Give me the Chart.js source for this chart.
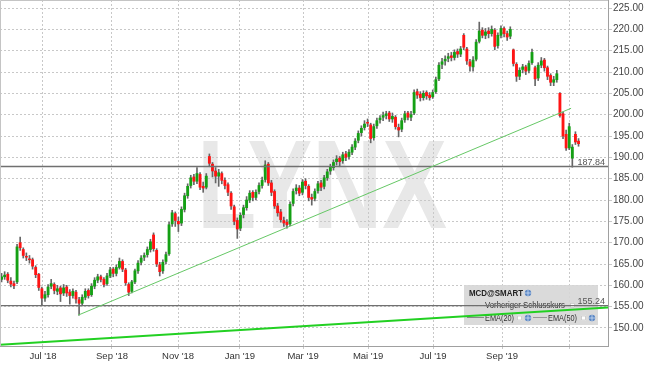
<!DOCTYPE html>
<html>
<head>
<meta charset="utf-8">
<script src="https://cdn.jsdelivr.net/npm/chart.js@4.4.0/dist/chart.umd.min.js"></script>
<style>
html, body { margin: 0; padding: 0; background: #fff; }
canvas { display: block; }
</style>
</head>
<body>
<canvas id="myChart" width="645" height="366"></canvas>
<script>
// Kerzen (je Kerze ca. zwei Handelstage), Mai 2018 - Nov 2019
const candleOpen = [
  161.4, 162.0, 162.6, 161.0, 160.4, 160.8, 170.0, 168.4, 166.8, 166.2,
  166.0, 164.2, 162.6, 159.2, 157.0, 157.8, 159.8, 160.2, 158.6, 159.4,
  158.2, 159.6, 158.4, 157.6, 158.4, 156.6, 155.8, 157.2, 158.8, 157.8,
  159.8, 161.2, 162.0, 161.4, 160.4, 162.2, 163.8, 162.8, 164.2, 165.6,
  163.6, 160.2, 158.6, 160.8, 163.4, 165.4, 166.6, 167.2, 168.4, 171.8,
  168.2, 164.8, 163.4, 165.6, 167.4, 174.4, 176.8, 175.0, 174.6, 177.8,
  181.0, 183.4, 185.4, 184.4, 186.0, 183.2, 183.0, 190.2, 188.4, 186.8,
  185.6, 186.2, 184.6, 183.6, 181.6, 178.4, 175.2, 173.4, 176.6, 178.2,
  180.0, 181.8, 180.6, 182.0, 183.4, 184.8, 188.4, 184.0, 182.0, 178.6,
  177.2, 175.2, 174.8, 174.4, 179.2, 182.2, 182.8, 181.8, 184.4, 183.2,
  180.6, 180.4, 182.2, 184.0, 183.2, 185.2, 186.8, 187.6, 189.0, 189.8,
  189.2, 190.8, 190.2, 191.2, 192.4, 194.0, 195.8, 197.0, 198.2, 197.6,
  194.6, 197.4, 198.8, 199.4, 199.8, 200.4, 199.0, 199.4, 197.0, 196.6,
  198.8, 200.4, 199.4, 200.4, 205.4, 204.8, 204.0, 205.2, 204.6, 204.2,
  205.4, 208.4, 211.8, 212.6, 213.2, 213.8, 213.4, 214.8, 214.2, 218.6,
  215.4, 212.4, 211.2, 213.0, 217.2, 219.8, 218.6, 219.6, 219.0, 219.8,
  216.2, 218.6, 220.2, 219.0, 218.4, 215.2, 211.8, 209.0, 210.6, 211.2,
  210.4, 212.2, 211.0, 208.6, 211.6, 212.8, 211.0, 209.2, 207.6, 208.2,
  205.0, 200.2, 195.4, 192.2, 189.8, 195.4, 193.8
];
const candleHigh = [
  162.8, 163.2, 163.0, 161.8, 161.0, 169.6, 171.3, 168.8, 167.6, 167.0,
  166.4, 164.6, 162.8, 159.6, 158.6, 160.2, 161.4, 160.6, 160.0, 159.8,
  160.2, 160.0, 159.0, 159.2, 158.8, 157.2, 157.8, 159.2, 159.2, 160.4,
  161.8, 162.6, 162.4, 161.8, 162.8, 164.2, 164.2, 164.8, 166.4, 166.0,
  164.0, 160.6, 161.2, 163.8, 165.8, 167.0, 167.6, 169.0, 170.8, 172.3,
  168.6, 165.4, 166.0, 167.8, 174.8, 177.6, 177.2, 176.0, 178.4, 181.6,
  183.8, 185.8, 186.0, 187.6, 186.4, 184.2, 186.2, 190.8, 188.8, 187.6,
  187.2, 186.6, 185.2, 184.0, 182.0, 178.8, 175.8, 177.0, 178.8, 180.8,
  182.2, 182.2, 182.4, 184.0, 185.4, 189.2, 188.8, 184.6, 182.4, 179.2,
  177.8, 176.0, 175.4, 179.6, 182.6, 183.6, 183.4, 184.8, 185.0, 183.6,
  181.4, 182.6, 184.4, 184.6, 185.8, 187.2, 188.4, 189.4, 190.4, 190.2,
  191.2, 191.4, 191.8, 193.0, 194.4, 196.2, 197.4, 198.6, 199.0, 198.0,
  197.8, 199.2, 199.8, 200.6, 200.8, 200.8, 200.4, 199.8, 197.8, 199.2,
  200.8, 200.8, 200.8, 205.8, 206.0, 205.4, 205.6, 205.6, 205.2, 205.8,
  208.8, 212.2, 213.2, 213.8, 214.4, 214.6, 215.2, 215.4, 216.0, 219.0,
  215.8, 213.0, 213.6, 217.6, 221.7, 220.4, 220.2, 220.4, 220.8, 220.2,
  219.2, 220.8, 220.6, 219.6, 220.6, 215.4, 212.2, 211.0, 211.8, 211.6,
  212.6, 215.4, 211.4, 212.2, 213.4, 213.2, 211.4, 209.6, 209.0, 210.4,
  205.2, 200.6, 196.4, 198.0, 193.0, 196.0, 194.4
];
const candleLow = [
  160.8, 161.4, 160.6, 159.6, 159.2, 160.4, 168.2, 166.4, 165.8, 165.2,
  163.8, 161.8, 158.8, 155.3, 156.2, 157.2, 159.2, 158.0, 157.8, 156.2,
  157.6, 157.4, 155.6, 157.0, 155.8, 153.0, 155.2, 156.6, 157.0, 157.4,
  159.2, 160.6, 160.8, 159.6, 160.0, 161.8, 162.0, 162.2, 163.8, 163.2,
  160.0, 157.6, 158.2, 160.4, 162.8, 164.8, 165.8, 166.6, 167.8, 168.0,
  164.4, 162.2, 162.8, 165.0, 167.0, 173.8, 173.8, 172.6, 174.0, 177.2,
  180.4, 182.8, 183.6, 183.8, 182.4, 181.8, 182.6, 187.8, 185.4, 184.0,
  183.2, 183.8, 182.6, 181.0, 177.8, 174.2, 171.0, 172.8, 175.8, 177.6,
  179.4, 179.8, 180.0, 181.4, 182.8, 184.2, 183.4, 181.0, 178.0, 176.2,
  174.8, 173.8, 173.4, 174.0, 178.6, 181.4, 181.0, 181.2, 182.6, 179.8,
  178.8, 179.8, 181.6, 182.2, 182.6, 184.6, 186.0, 187.0, 188.2, 187.8,
  188.6, 189.2, 189.6, 190.6, 191.8, 193.4, 195.0, 196.4, 197.2, 193.4,
  194.0, 196.8, 198.0, 198.6, 199.0, 198.4, 198.2, 196.6, 194.8, 196.0,
  198.2, 198.8, 198.6, 200.0, 203.8, 203.2, 203.4, 203.6, 203.4, 203.8,
  205.0, 208.0, 210.8, 211.6, 212.4, 212.6, 212.8, 213.4, 213.6, 215.2,
  211.8, 210.2, 210.2, 212.6, 216.8, 218.0, 217.8, 218.0, 218.4, 215.2,
  215.6, 218.0, 218.2, 217.4, 217.8, 211.4, 207.8, 208.2, 209.8, 209.4,
  209.8, 211.8, 206.8, 208.0, 211.0, 210.2, 208.2, 206.8, 206.8, 207.6,
  199.4, 194.4, 191.6, 191.8, 187.7, 193.0, 192.6
];
const candleClose = [
  162.0, 162.4, 161.2, 160.3, 159.9, 169.0, 168.8, 167.0, 166.6, 166.0,
  164.5, 162.5, 159.5, 157.0, 157.8, 159.6, 160.4, 158.8, 159.2, 158.0,
  159.4, 158.2, 157.6, 158.6, 156.8, 155.8, 157.2, 158.6, 157.6, 159.8,
  161.2, 162.0, 161.4, 160.2, 162.2, 163.6, 162.8, 164.2, 165.6, 163.8,
  160.6, 158.4, 160.8, 163.4, 165.2, 166.4, 167.0, 168.4, 170.2, 168.6,
  165.0, 163.2, 165.4, 167.2, 174.2, 177.0, 175.2, 174.4, 177.8, 181.0,
  183.2, 185.2, 184.4, 186.2, 183.0, 182.8, 185.6, 188.6, 186.8, 185.6,
  186.4, 184.6, 183.4, 181.8, 178.6, 175.0, 173.2, 176.4, 178.2, 180.0,
  181.6, 180.6, 181.8, 183.4, 184.6, 188.2, 184.0, 181.8, 178.6, 177.0,
  175.4, 174.6, 174.2, 179.0, 182.0, 182.8, 181.6, 184.2, 183.4, 180.6,
  180.2, 182.0, 183.8, 183.0, 185.2, 186.6, 187.8, 188.8, 189.6, 189.0,
  190.6, 190.0, 191.2, 192.4, 193.8, 195.6, 196.8, 197.8, 198.0, 194.4,
  197.2, 198.6, 199.2, 199.8, 200.2, 199.0, 199.6, 197.2, 196.4, 198.6,
  200.2, 199.4, 200.0, 205.2, 204.6, 204.0, 205.0, 204.4, 204.0, 205.2,
  208.2, 211.6, 212.4, 213.0, 213.6, 213.4, 214.6, 214.2, 215.4, 215.8,
  212.6, 211.4, 212.8, 217.0, 219.6, 218.6, 219.4, 219.0, 220.0, 216.0,
  218.6, 220.2, 219.0, 218.2, 220.0, 212.0, 209.0, 210.4, 211.2, 210.2,
  212.0, 214.6, 208.4, 211.6, 212.6, 211.0, 209.0, 207.6, 208.2, 209.6,
  199.8, 195.0, 192.2, 197.2, 192.4, 193.6, 193.2
];

// Achsen (x = Handelstag-Index)
const monthTicks = [27.7, 72.2, 114.8, 154.7, 195.4, 237.3, 279.2, 323.7, 366.9];
const monthLabels = ["Jul '18", "Sep '18", "Nov '18", "Jan '19", "Mar '19", "Mai '19", "Jul '19", "Sep '19", ""];
const priceTicks = [150, 155, 160, 165, 170, 175, 180, 185, 190, 195, 200, 205, 210, 215, 220, 225];

// Linien
const levelLines = [187.84, 155.24];
const trendDays = [50.3, 368.2];
const trendValues = [153.0, 201.5];
const longDays = [0, 392];
const longValues = [146.1, 154.8];

const GREEN = '#14a014';
const RED = '#ff1414';
const FONT = '"Liberation Sans", Arial, sans-serif';

const wickData = candleHigh.map((h, i) => ({ x: 2 * i + 1, y: [candleLow[i], h] }));
const bodyData = candleOpen.map((o, i) => ({ x: 2 * i + 1, y: [o, candleClose[i]] }));
const bodyColors = candleOpen.map((o, i) => candleClose[i] > o ? GREEN : RED);

// Wasserzeichen + weisser Hintergrund
const watermark = {
  id: 'watermark',
  beforeDraw(chart) {
    const { ctx } = chart;
    ctx.save();
    ctx.fillStyle = '#fff';
    ctx.fillRect(0, 0, chart.width, chart.height);
    ctx.font = 'bold 126px ' + FONT;
    const w = ctx.measureText('LYNX').width;
    ctx.translate(197, 228);
    ctx.scale(250 / w, 1);
    ctx.fillStyle = '#e8e8e8';
    ctx.textBaseline = 'alphabetic';
    ctx.fillText('LYNX', 0, 0);
    ctx.restore();
  }
};

// Text auf feste Breite stauchen
function fitText(ctx, txt, x, y, width) {
  const w = ctx.measureText(txt).width;
  ctx.save();
  ctx.translate(x, y);
  ctx.scale(Math.min(1, width / w), 1);
  ctx.fillText(txt, 0, 0);
  ctx.restore();
}
function globe(ctx, x, y) {
  ctx.beginPath();
  ctx.arc(x, y, 3.2, 0, Math.PI * 2);
  ctx.fillStyle = '#5a86c4';
  ctx.fill();
  ctx.strokeStyle = '#cfe0f5';
  ctx.lineWidth = 0.8;
  ctx.beginPath();
  ctx.moveTo(x - 3, y); ctx.lineTo(x + 3, y);
  ctx.moveTo(x, y - 3); ctx.lineTo(x, y + 3);
  ctx.stroke();
}
function checkbox(ctx, x, y) {
  ctx.fillStyle = '#fff';
  ctx.fillRect(x, y, 5, 5);
  ctx.strokeStyle = '#c4c4c4';
  ctx.lineWidth = 0.8;
  ctx.strokeRect(x + 0.5, y + 0.5, 4, 4);
}

// Legendenkasten unten rechts
const infoBox = {
  id: 'infoBox',
  beforeDatasetsDraw(chart) {
    const { ctx } = chart;
    ctx.save();
    ctx.fillStyle = 'rgba(214,214,214,0.9)';
    ctx.fillRect(464, 285, 134, 40);
    ctx.fillStyle = '#222';
    ctx.font = 'bold 9.5px ' + FONT;
    ctx.textBaseline = 'middle';
    fitText(ctx, 'MCD@SMART', 469, 293.5, 54);
    globe(ctx, 528, 293);

    ctx.strokeStyle = '#444';
    ctx.lineWidth = 1.2;
    ctx.setLineDash([3, 2]);
    ctx.beginPath(); ctx.moveTo(470, 305.5); ctx.lineTo(483, 305.5); ctx.stroke();
    ctx.setLineDash([]);
    ctx.fillStyle = '#333';
    ctx.font = '9.5px ' + FONT;
    fitText(ctx, 'Vorheriger Schlusskurs', 485, 305.5, 80);
    checkbox(ctx, 570, 303);

    ctx.strokeStyle = '#888';
    ctx.lineWidth = 1;
    ctx.beginPath(); ctx.moveTo(467, 317.5); ctx.lineTo(484, 317.5); ctx.stroke();
    ctx.fillStyle = '#333';
    fitText(ctx, 'EMA(20)', 485, 318, 29);
    checkbox(ctx, 517, 315.5);
    globe(ctx, 528, 318);
    ctx.strokeStyle = '#888';
    ctx.beginPath(); ctx.moveTo(533, 317.5); ctx.lineTo(547, 317.5); ctx.stroke();
    ctx.fillStyle = '#333';
    fitText(ctx, 'EMA(50)', 548, 318, 29);
    checkbox(ctx, 581, 315.5);
    globe(ctx, 592, 318);
    ctx.restore();
  },
  afterDatasetsDraw(chart) {
    const { ctx, chartArea: a } = chart;
    const y = chart.scales.y;
    ctx.save();
    ctx.fillStyle = '#555';
    ctx.font = '9px ' + FONT;
    ctx.textAlign = 'right';
    ctx.textBaseline = 'middle';
    levelLines.forEach(v => ctx.fillText(v.toFixed(2), a.right - 3, y.getPixelForValue(v) - 4.5));
    // Rahmen oben/links
    ctx.strokeStyle = '#c4c4c4';
    ctx.lineWidth = 1;
    ctx.beginPath();
    ctx.moveTo(a.left + 0.5, a.bottom); ctx.lineTo(a.left + 0.5, a.top + 0.5); ctx.lineTo(a.right, a.top + 0.5);
    ctx.stroke();
    ctx.restore();
  }
};

const levelSets = levelLines.map(v => ({
  type: 'line',
  data: [{ x: 0, y: v }, { x: 392, y: v }],
  borderColor: '#707070',
  borderWidth: 1.4,
  pointRadius: 0,
  order: 0
}));

const data = {
  datasets: [
    {
      type: 'line',
      data: trendDays.map((d, i) => ({ x: d, y: trendValues[i] })),
      borderColor: '#66c866',
      borderWidth: 1,
      pointRadius: 0,
      order: 0
    },
    {
      type: 'line',
      data: longDays.map((d, i) => ({ x: d, y: longValues[i] })),
      borderColor: '#22d022',
      borderWidth: 2,
      pointRadius: 0,
      order: 0
    },
    ...levelSets,
    {
      type: 'bar',
      data: bodyData,
      backgroundColor: bodyColors,
      borderWidth: 0,
      barThickness: 2.2,
      grouped: false,
      order: 1
    },
    {
      type: 'bar',
      data: wickData,
      backgroundColor: '#666',
      borderWidth: 0,
      barThickness: 1,
      grouped: false,
      order: 2
    }
  ]
};

const options = {
  responsive: false,
  animation: false,
  devicePixelRatio: 1,
  layout: { padding: 0 },
  plugins: { legend: { display: false }, tooltip: { enabled: false } },
  scales: {
    x: {
      type: 'linear',
      min: 0,
      max: 392,
      offset: false,
      afterBuildTicks: s => { s.ticks = monthTicks.map(v => ({ value: v })); },
      afterFit: s => { s.height = 20; s.paddingLeft = 0; s.paddingRight = 0; },
      ticks: {
        autoSkip: false,
        maxRotation: 0,
        padding: 2,
        color: '#333',
        font: { family: FONT, size: 9.5 },
        callback: (v, i) => monthLabels[i]
      },
      grid: { color: '#c8c8c8', offset: false, tickLength: 3 },
      border: { color: '#a0a0a0', dash: [2, 2] }
    },
    y: {
      position: 'right',
      min: 145.78,
      max: 226.88,
      afterBuildTicks: s => { s.ticks = priceTicks.map(v => ({ value: v })); },
      afterFit: s => { s.width = 37; s.paddingTop = 0; s.paddingBottom = 0; },
      ticks: {
        padding: 1,
        color: '#444',
        font: { family: FONT, size: 10 },
        callback: v => v.toFixed(2)
      },
      grid: { color: '#c8c8c8', tickLength: 4 },
      border: { color: '#a0a0a0', dash: [2, 2] }
    }
  }
};

const config = {
  type: 'bar',
  data,
  options,
  plugins: [watermark, infoBox]
};

const myChart = new Chart(document.getElementById('myChart').getContext('2d'), config);
</script>
</body>
</html>
